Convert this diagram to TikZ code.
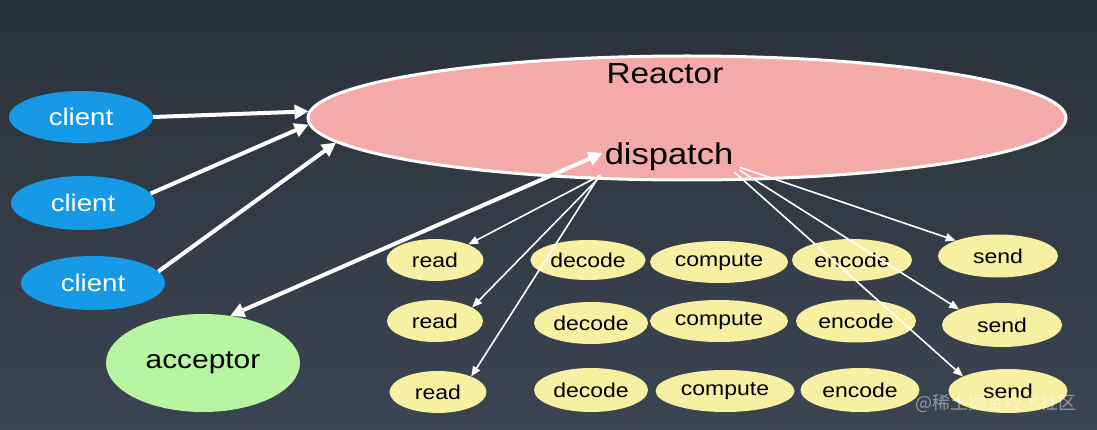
\documentclass[tikz,border=0pt]{standalone}
\usepackage{fontspec}
\setmainfont[FakeStretch=1.15]{Liberation Sans}
\newfontfamily\cjkwm{Noto Sans CJK SC}
\usetikzlibrary{shapes.geometric,arrows.meta}
\definecolor{bgtop}{HTML}{2A3139}
\definecolor{bgbot}{HTML}{3B4552}
\definecolor{cblue}{HTML}{169AE8}
\definecolor{cgreen}{HTML}{B8F5A2}
\definecolor{cpink}{HTML}{F5AAAA}
\definecolor{cyellow}{HTML}{F7F0A2}
\tikzset{
  oval/.style={ellipse, inner sep=0pt},
  clientbox/.style={oval, fill=cblue, text=white, minimum width=144pt, minimum height=52pt, font=\fontsize{24}{26}\selectfont},
  taskbox/.style={oval, fill=cyellow, text=black, minimum height=42pt, font=\fontsize{20}{22}\selectfont},
  bigarrow/.style={draw=white, line width=4pt, -{Triangle[length=14pt,width=14pt]}},
  thinarrow/.style={draw=white, line width=1.6pt, -{Triangle[length=10pt,width=8pt]}},
}
\begin{document}
\begin{tikzpicture}[x=1pt,y=-1pt]
\shade[top color=bgtop, bottom color=bgbot] (0,0) rectangle (1097,430);
\useasboundingbox (0,0) rectangle (1097,430);

% reactor
\node[oval, draw=white, line width=3pt, fill=cpink, minimum width=758pt, minimum height=124pt] (reactor) at (687,118) {};
\node[font=\fontsize{29}{31}\selectfont] (reactorlabel) at (665,74) {Reactor};
\node[font=\fontsize{30}{32}\selectfont, inner sep=2pt] (dispatch) at (669,157) {dispatch};

% clients and acceptor
\node[clientbox] (c1) at (81,117) {client};
\node[clientbox, minimum height=54pt] (c2) at (83,203) {client};
\node[clientbox, minimum height=54pt] (c3) at (93,283) {client};
\node[oval, fill=cgreen, minimum width=194pt, minimum height=98pt, font=\fontsize{26}{28}\selectfont] (acceptor) at (203,363) {acceptor};

% tasks
\node[taskbox, minimum width=97pt] (r1) at (435,260) {read};
\node[taskbox, minimum width=96pt] (r2) at (435,321) {read};
\node[taskbox, minimum width=97pt] (r3) at (438,392) {read};
\node[taskbox, minimum width=115pt, minimum height=40pt] (d1) at (588,260) {decode};
\node[taskbox, minimum width=114pt] (d2) at (591,323) {decode};
\node[taskbox, minimum width=114pt, minimum height=44pt] (d3) at (591,390) {decode};
\node[taskbox, minimum width=138pt] (p1) at (719,262) {compute};
\node[taskbox, minimum width=138pt] (p2) at (719,321) {compute};
\node[taskbox, minimum width=139pt] (p3) at (725,391) {compute};
\node[taskbox, minimum width=120pt] (e1) at (852,260) {encode};
\node[taskbox, minimum width=120pt, minimum height=43pt] (e2) at (856,321) {encode};
\node[taskbox, minimum width=119pt, minimum height=44pt] (e3) at (860,390) {encode};
\node[taskbox, minimum width=120pt, minimum height=43pt] (s1) at (998,256) {send};
\node[taskbox, minimum width=120pt, minimum height=44pt] (s2) at (1002,325) {send};
\node[taskbox, minimum width=119pt, minimum height=44pt] (s3) at (1008,391) {send};

% arrows clients -> reactor
\draw[bigarrow] (c1.east) -- (reactor.179);
\draw[bigarrow] (c2.8) -- (reactor.181);
\draw[bigarrow] (c3.10) -- (reactor.184.5);

% acceptor <-> dispatch
\draw[draw=white, line width=4pt, {Triangle[length=14pt,width=14pt]}-{Triangle[length=14pt,width=14pt]}] (acceptor.60) -- ([yshift=4pt]dispatch.west);

% dispatch -> read
\draw[thinarrow] ([xshift=-2pt,yshift=-2pt]dispatch.south west) -- (r1.25);
\draw[thinarrow] ([xshift=-2pt,yshift=-3pt]dispatch.south west) -- (r2.20);
\draw[thinarrow] ([xshift=-4pt,yshift=-4pt]dispatch.south west) -- (r3.25);

% dispatch -> send
\draw[thinarrow] ([xshift=4pt,yshift=6pt]dispatch.south east) -- (s1.160);
\draw[thinarrow] ([xshift=4pt,yshift=3pt]dispatch.south east) -- (s2.160);
\draw[thinarrow] ([xshift=-1pt,yshift=1pt]dispatch.south east) -- (s3.162);

% watermark
\node[text=white, opacity=0.45, font=\cjkwm\fontsize{18}{20}\selectfont, anchor=east] (wm) at (1080,403) {@稀土掘金技术社区};
\end{tikzpicture}
\end{document}
